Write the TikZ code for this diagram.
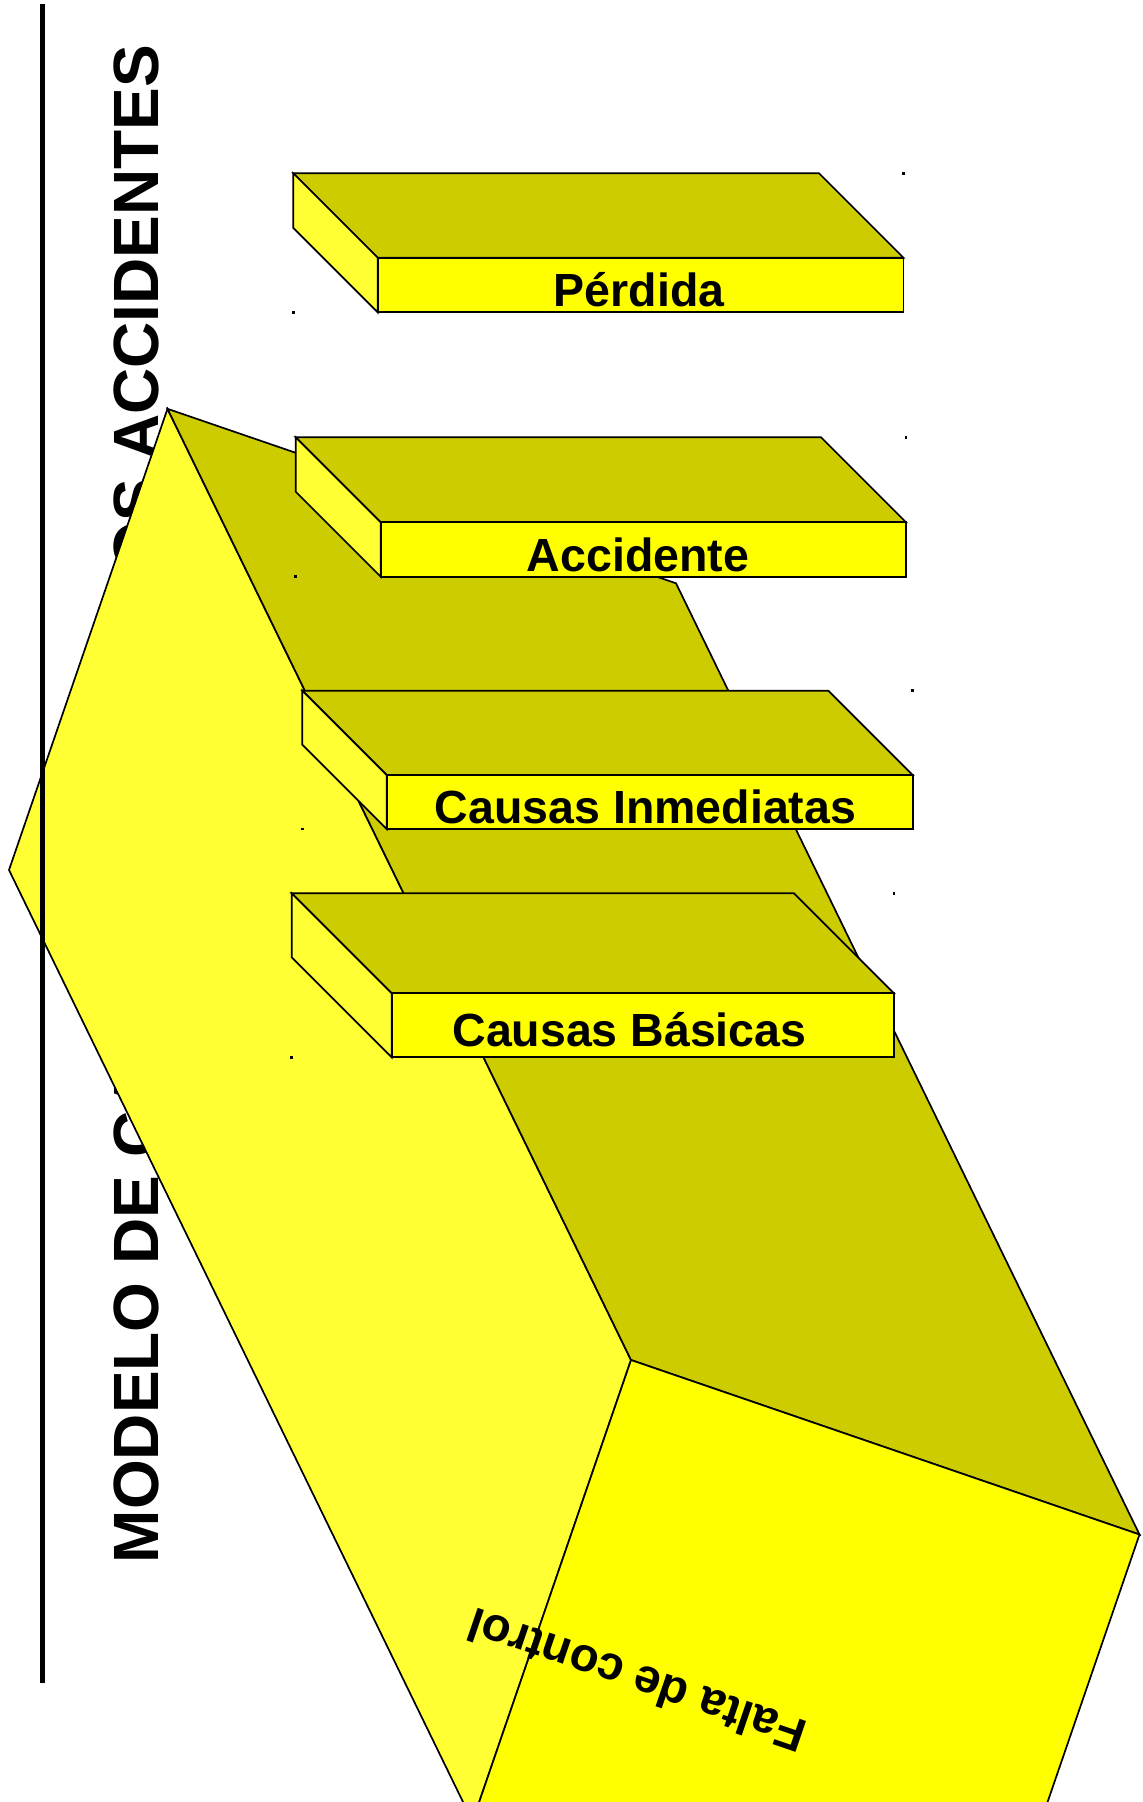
\documentclass[tikz,border=0pt]{standalone}
\usepackage{fontspec}
\setmainfont{Liberation Sans}
\definecolor{darkface}{HTML}{CCCC00}
\definecolor{sideface}{HTML}{FFFF33}
\definecolor{frontface}{HTML}{FFFF00}
\tikzset{
  edgeline/.style={draw=black, line width=1.7pt, line join=miter},
  slabtext/.style={font=\bfseries\fontsize{46.5}{50}\selectfont, inner sep=0pt, anchor=base},
  titletext/.style={font=\bfseries\fontsize{64}{70}\selectfont, inner sep=0pt, anchor=base, rotate=90},
  faltatext/.style={font=\bfseries\fontsize{47.5}{50}\selectfont, inner sep=0pt, anchor=center, rotate=161.1},
  dotmark/.style={fill=black},
  rule/.style={draw=black, line width=5.3pt}
}
% #1 bx, #2 by, #3 width, #4 depth, #5 height, #6 name, #7 text, #8 text x, #9 baseline y
\newcommand{\drawslab}[9]{%
  \path[edgeline, fill=darkface] (#1,#2) -- ++(#3,0) -- ++(#4,#4) -- ++(-#3,0) -- cycle;
  \path[edgeline, fill=sideface] (#1,#2) -- ++(#4,#4) -- ++(0,#5) -- ++(-#4,-#4) -- cycle;
  \path[edgeline, fill=frontface] ({#1+#4},{#2+#4}) rectangle ++(#3,#5);
  \node[slabtext] (#6) at (#8,#9) {#7};
  \fill[dotmark] ({#1+#3+#4-1.3},{#2-1.3}) rectangle ++(2.6,2.6);
  \fill[dotmark] ({#1-1.3},{#2+#4+#5-1.3}) rectangle ++(2.6,2.6);
}
\begin{document}
\begin{tikzpicture}[x=1pt,y=-1pt]
  \path[use as bounding box] (0,0) rectangle (1143,1802);
  \clip (0,0) rectangle (1143,1802);

  % title (behind the prism)
  \node[titletext] (title) at (158.3,804) {MODELO DE CAUSALIDAD DE LOS ACCIDENTES};

  % prism vertices
  \coordinate (P1) at (167.5,408.8);
  \coordinate (P2) at (676,583.3);
  \coordinate (P3) at (9,870);
  \coordinate (A)  at (631,1360);
  \coordinate (B)  at (1139.5,1534.5);
  \coordinate (C)  at (472.5,1821.4);
  \coordinate (D)  at (981,1995.7);

  \path[edgeline, fill=sideface] (P1) -- (P3) -- (C) -- (A) -- cycle;
  \path[edgeline, fill=darkface] (P1) -- (P2) -- (B) -- (A) -- cycle;
  \path[edgeline, fill=frontface] (A) -- (B) -- (D) -- (C) -- cycle;

  \node[faltatext] (falta) at (636.5,1681) {Falta de control};

  % vertical rule
  \coordinate (rtop) at (42.7,4);
  \coordinate (rbot) at (42.7,1683);
  \draw[rule] (rtop) -- (rbot);

  % slabs
  \drawslab{293.3}{173.3}{525.7}{84.4}{54.6}{perdida}{Pérdida}{639}{306}
  \drawslab{295.7}{437.3}{525.3}{85}{54.4}{accidente}{Accidente}{638}{571.5}
  \drawslab{302.3}{690.7}{526}{84.4}{54}{inmediatas}{Causas Inmediatas}{645.5}{823.3}
  \drawslab{291.7}{893.3}{502.3}{100}{64}{basicas}{Causas Básicas}{629.5}{1046.7}
\end{tikzpicture}
\end{document}
